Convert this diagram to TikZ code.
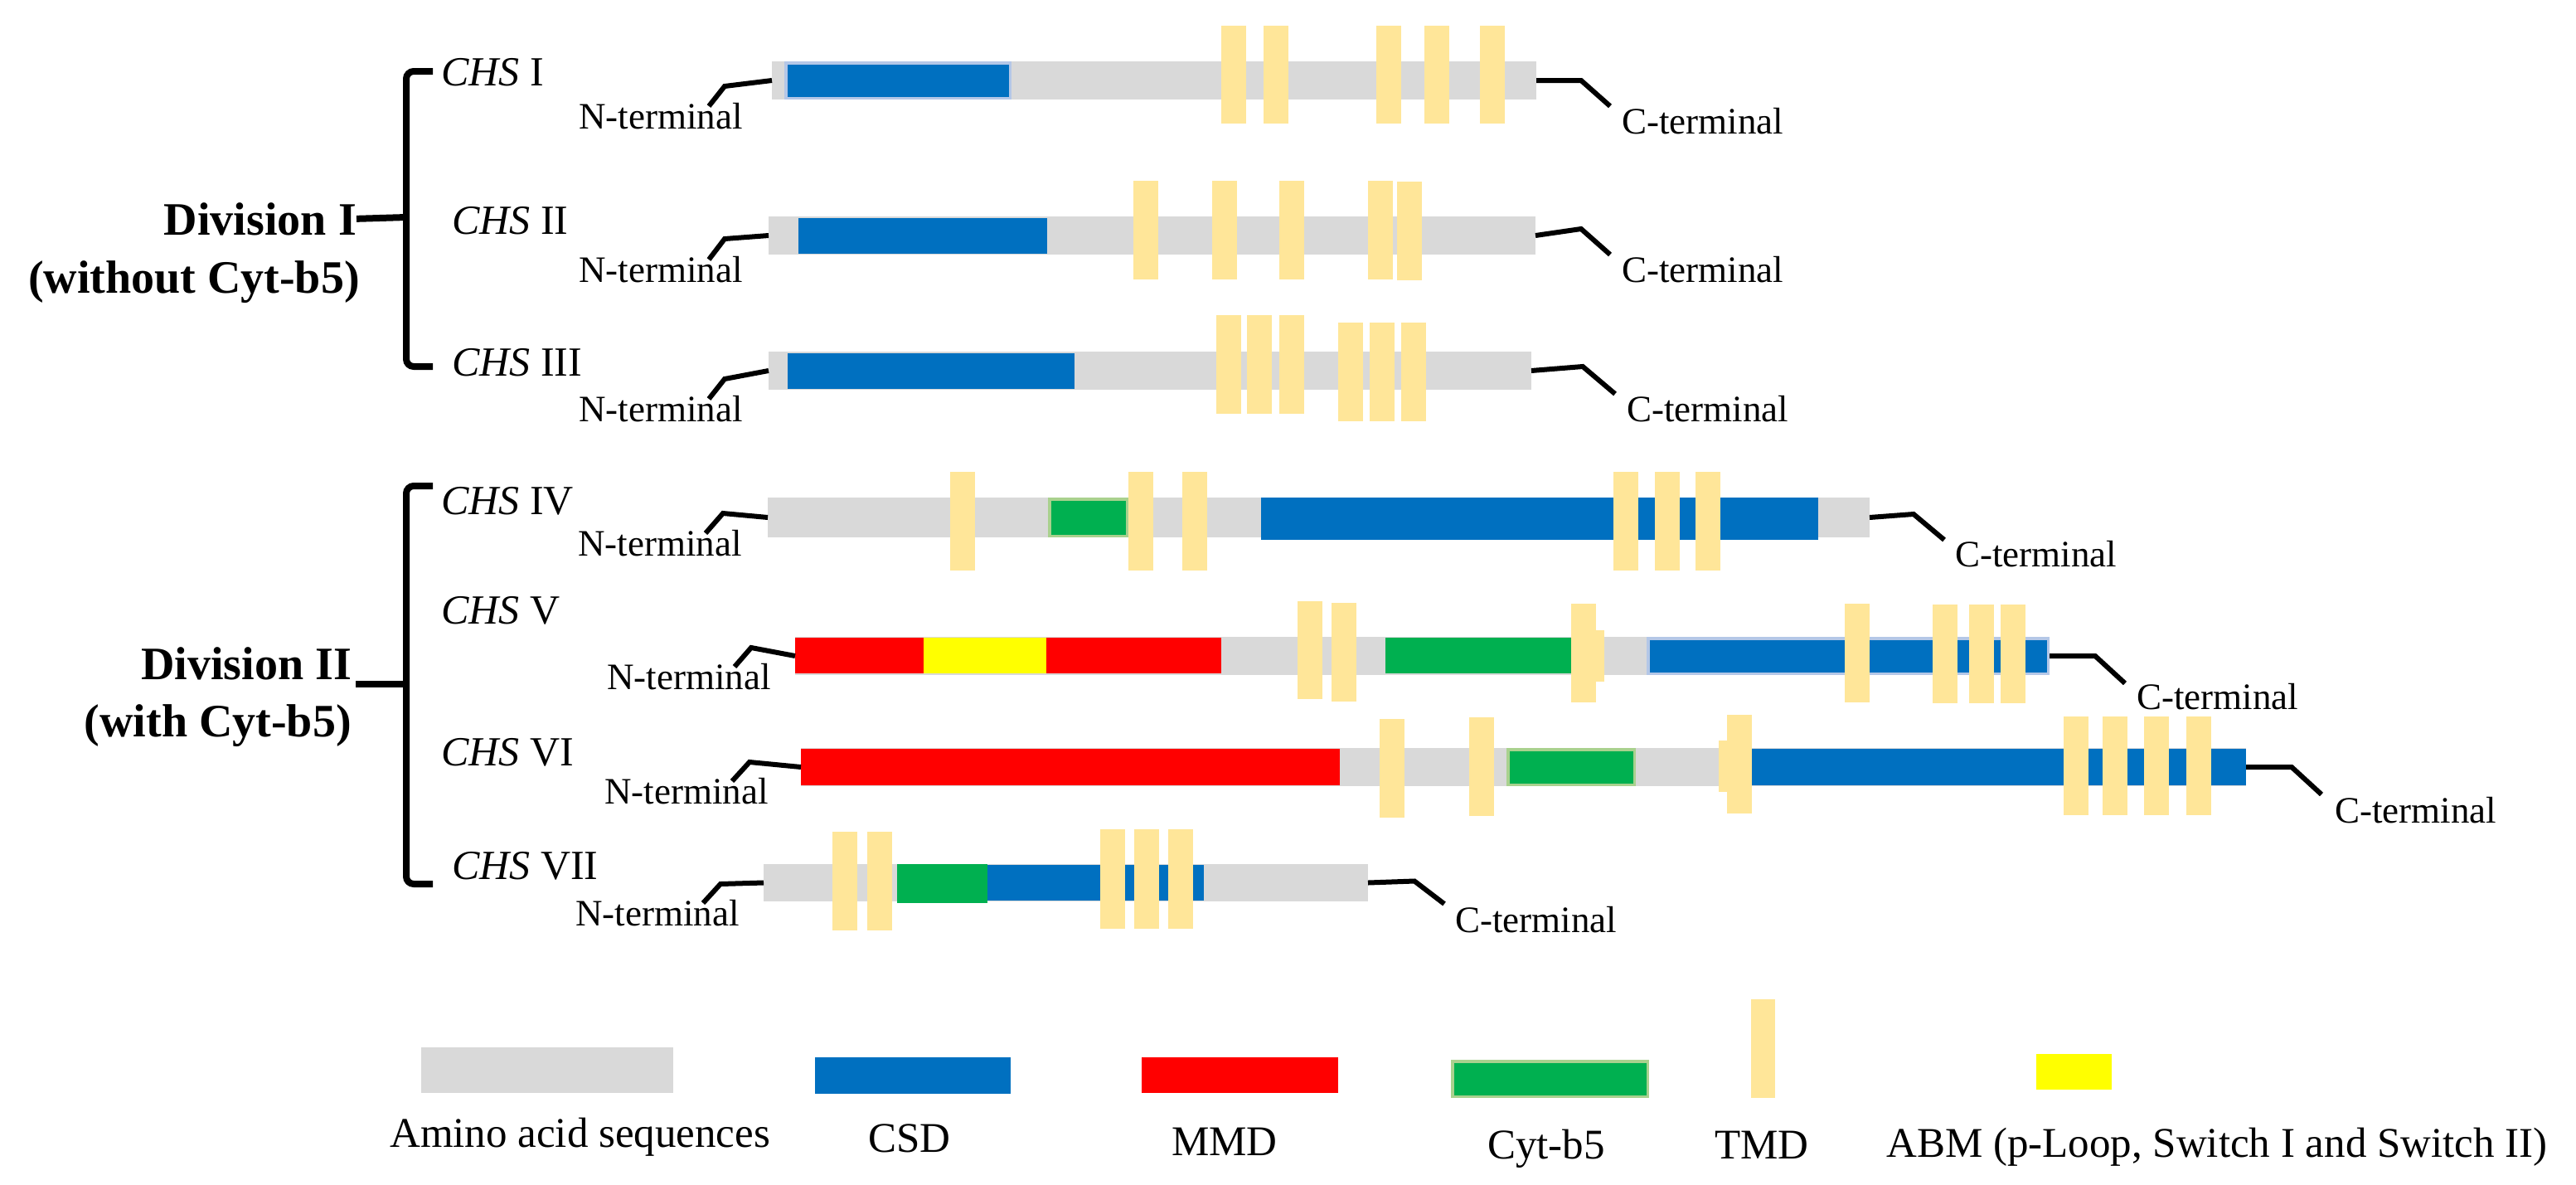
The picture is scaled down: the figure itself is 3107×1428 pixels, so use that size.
\documentclass[tikz,border=0pt]{standalone}
\usepackage{fontspec}
\setmainfont{Liberation Serif}
\usetikzlibrary{fit}
\definecolor{aagray}{HTML}{D9D9D9}
\definecolor{csdblue}{HTML}{0070C0}
\definecolor{mmdred}{HTML}{FF0000}
\definecolor{abmyellow}{HTML}{FFFF00}
\definecolor{cytgreen}{HTML}{00B050}
\definecolor{tmdyellow}{HTML}{FFE699}
\definecolor{csdborder}{HTML}{B4C7E7}
\definecolor{cytborder}{HTML}{A9D18E}
\tikzset{
  seg/.style={rectangle, inner sep=0pt, outer sep=0pt, draw=none},
  conn/.style={line width=6pt, line join=miter},
  brace/.style={line width=8pt, rounded corners=9pt},
  nlab/.style={font=\fontsize{45}{50}\selectfont, inner sep=0pt, anchor=base west},
  chs/.style={font=\fontsize{50}{55}\selectfont, inner sep=0pt, anchor=base west},
  divlab/.style={font=\fontsize{56}{62}\selectfont\bfseries, inner sep=0pt, anchor=base east},
  leg/.style={font=\fontsize{51}{56}\selectfont, inner sep=0pt, anchor=base west},
}
\newcommand\seg[6]{\node[seg,fill=#1,fit={(#3,#4) (#5,#6)}] (#2) {};}
\newcommand\bseg[7]{\node[seg,fill=#1,draw=#2,line width=3.5pt,fit={(#4+1.75,#5+1.75) (#6-1.75,#7-1.75)}] (#3) {};}
\newcommand\tmd[4]{\node[seg,fill=tmdyellow,fit={(#2,#3) (#2+30,#4)}] (#1) {};}
\begin{document}
\begin{tikzpicture}[x=1pt,y=-1pt]
\useasboundingbox[fill=white] (0,0) rectangle (3107,1428);

% ---------- Division I ----------
\node[divlab] (div1) at (430,283) {Division I};
\node[divlab] (div1b) at (434,353) {(without Cyt-b5)};
\draw[brace] (522,86) -- (490,86) -- (490,442) -- (522,442);
\draw[brace,rounded corners=0pt] (div1.east) -- (490,262);

% ---------- Division II ----------
\node[divlab] (div2) at (424,819) {Division II};
\node[divlab] (div2b) at (424,888) {(with Cyt-b5)};
\draw[brace] (522,586) -- (490,586) -- (490,1066) -- (522,1066);
\draw[brace,rounded corners=0pt] (429,825) -- (490,825);

% ---------- CHS I ----------
\node[chs] (chs1) at (532,103) {\textit{CHS} I};
\node[nlab] (nt1) at (698,155) {N-terminal};
\seg{aagray}{g1}{931}{74}{1853}{120}
\bseg{csdblue}{csdborder}{c1}{946}{74}{1220}{120}
\tmd{t1a}{1473}{31}{149}\tmd{t1b}{1524}{31}{149}\tmd{t1c}{1660}{31}{149}
\tmd{t1d}{1718}{31}{149}\tmd{t1e}{1785}{31}{149}
\node[nlab] (ct1) at (1956,161) {C-terminal};
\coordinate (na1) at (855,128);
\coordinate (ca1) at (1942,128);
\draw[conn] (na1) -- ++(19,-24) -- (g1.west);
\draw[conn] (g1.east) -- ++(54,0) -- (ca1);

% ---------- CHS II ----------
\node[chs] (chs2) at (545,282) {\textit{CHS} II};
\node[nlab] (nt2) at (698,340) {N-terminal};
\seg{aagray}{g2}{927}{261}{1852}{307}
\seg{csdblue}{c2}{963}{263}{1263}{306}
\tmd{t2a}{1367}{218}{337}\tmd{t2b}{1462}{218}{337}\tmd{t2c}{1543}{218}{337}
\tmd{t2d}{1650}{218}{337}\tmd{t2e}{1685}{219}{338}
\node[nlab] (ct2) at (1956,340) {C-terminal};
\coordinate (na2) at (855,313);
\coordinate (ca2) at (1942,307);
\draw[conn] (na2) -- ++(19,-25) -- (g2.west);
\draw[conn] (g2.east) -- ++(55,-8) -- (ca2);

% ---------- CHS III ----------
\node[chs] (chs3) at (545,453) {\textit{CHS} III};
\node[nlab] (nt3) at (698,508) {N-terminal};
\seg{aagray}{g3}{927}{424}{1847}{470}
\seg{csdblue}{c3}{950}{426}{1296}{469}
\tmd{t3a}{1467}{380}{499}\tmd{t3b}{1504}{380}{499}\tmd{t3c}{1543}{380}{499}
\tmd{t3d}{1614}{389}{508}\tmd{t3e}{1652}{389}{508}\tmd{t3f}{1690}{389}{508}
\node[nlab] (ct3) at (1962,508) {C-terminal};
\coordinate (na3) at (855,481);
\coordinate (ca3) at (1948,475);
\draw[conn] (na3) -- ++(19,-24) -- (g3.west);
\draw[conn] (g3.east) -- ++(62,-5) -- (ca3);

% ---------- CHS IV ----------
\node[chs] (chs4) at (532,620) {\textit{CHS} IV};
\node[nlab] (nt4) at (697,670) {N-terminal};
\seg{aagray}{g4}{926}{600}{2255}{648}
\bseg{cytgreen}{cytborder}{y4}{1264}{600}{1361}{648}
\seg{csdblue}{c4}{1521}{600}{2193}{651}
\tmd{t4a}{1146}{569}{688}\tmd{t4b}{1361}{569}{688}\tmd{t4c}{1426}{569}{688}
\tmd{t4d}{1946}{569}{688}\tmd{t4e}{1996}{569}{688}\tmd{t4f}{2045}{569}{688}
\node[nlab] (ct4) at (2358,683) {C-terminal};
\coordinate (na4) at (851,643);
\coordinate (ca4) at (2345,651);
\draw[conn] (na4) -- ++(21,-24) -- (g4.west);
\draw[conn] (g4.east) -- ++(53,-4) -- (ca4);

% ---------- CHS V ----------
\node[chs] (chs5) at (532,752) {\textit{CHS} V};
\node[nlab] (nt5) at (732,831) {N-terminal};
\seg{aagray}{g5}{959}{768}{2472}{814}
\seg{mmdred}{r5a}{959}{769}{1114}{812}
\seg{abmyellow}{a5}{1114}{769}{1262}{812}
\seg{mmdred}{r5b}{1262}{769}{1473}{812}
\seg{cytgreen}{y5}{1671}{769}{1895}{812}
\bseg{csdblue}{csdborder}{c5}{1986}{768}{2472}{814}
\tmd{t5a}{1565}{725}{843}\tmd{t5b}{1606}{727}{846}\tmd{t5c}{1895}{728}{847}
\seg{tmdyellow}{t5x}{1925}{760}{1935}{822}
\tmd{t5d}{2225}{728}{847}\tmd{t5e}{2331}{729}{848}\tmd{t5f}{2375}{729}{848}\tmd{t5g}{2413}{729}{848}
\node[nlab] (ct5) at (2577,855) {C-terminal};
\coordinate (na5) at (886,804);
\coordinate (ca5) at (2563,824);
\draw[conn] (na5) -- ++(20,-23) -- (g5.west);
\draw[conn] (g5.east) -- ++(55,0) -- (ca5);

% ---------- CHS VI ----------
\node[chs] (chs6) at (532,923) {\textit{CHS} VI};
\node[nlab] (nt6) at (729,969) {N-terminal};
\seg{aagray}{g6}{966}{902}{2709}{948}
\seg{mmdred}{r6}{966}{903}{1616}{947}
\bseg{cytgreen}{cytborder}{y6}{1817}{902}{1973}{948}
\seg{csdblue}{c6}{2110}{903}{2709}{947}
\tmd{t6a}{1664}{867}{986}\tmd{t6b}{1772}{865}{984}
\seg{tmdyellow}{t6x}{2073}{893}{2084}{955}
\tmd{t6c}{2083}{862}{981}
\tmd{t6d}{2489}{864}{983}\tmd{t6e}{2536}{864}{983}\tmd{t6f}{2586}{864}{983}\tmd{t6g}{2637}{864}{983}
\node[nlab] (ct6) at (2816,992) {C-terminal};
\coordinate (na6) at (883,942);
\coordinate (ca6) at (2800,958);
\draw[conn] (na6) -- ++(21,-23) -- (g6.west);
\draw[conn] (g6.east) -- ++(55,0) -- (ca6);

% ---------- CHS VII ----------
\node[chs] (chs7) at (545,1060) {\textit{CHS} VII};
\node[nlab] (nt7) at (694,1116) {N-terminal};
\seg{aagray}{g7}{921}{1042}{1650}{1087}
\seg{cytgreen}{y7}{1082}{1042}{1191}{1089}
\seg{csdblue}{c7}{1191}{1043}{1452}{1086}
\tmd{t7a}{1004}{1003}{1122}\tmd{t7b}{1046}{1003}{1122}
\tmd{t7c}{1327}{1000}{1120}\tmd{t7d}{1368}{1000}{1120}\tmd{t7e}{1409}{1000}{1120}
\node[nlab] (ct7) at (1755,1124) {C-terminal};
\coordinate (na7) at (848,1089);
\coordinate (ca7) at (1742,1090);
\draw[conn] (na7) -- ++(21,-23) -- (g7.west);
\draw[conn] (g7.east) -- ++(56,-2) -- (ca7);

% ---------- Legend ----------
\seg{aagray}{lg}{508}{1263}{812}{1318}
\seg{csdblue}{lb}{983}{1275}{1219}{1319}
\seg{mmdred}{lr}{1377}{1275}{1614}{1318}
\bseg{cytgreen}{cytborder}{lc}{1750}{1278}{1989}{1324}
\seg{tmdyellow}{lt}{2112}{1205}{2141}{1324}
\seg{abmyellow}{ly}{2456}{1271}{2547}{1314}
\node[leg] (lgt) at (470,1383) {Amino acid sequences};
\node[leg] (lbt) at (1047,1389) {CSD};
\node[leg] (lrt) at (1413,1393) {MMD};
\node[leg] (lct) at (1794,1397) {Cyt-b5};
\node[leg] (ltt) at (2068,1397) {TMD};
\node[leg] (lyt) at (2275,1395) {ABM (p-Loop, Switch I and Switch II)};
\end{tikzpicture}
\end{document}
